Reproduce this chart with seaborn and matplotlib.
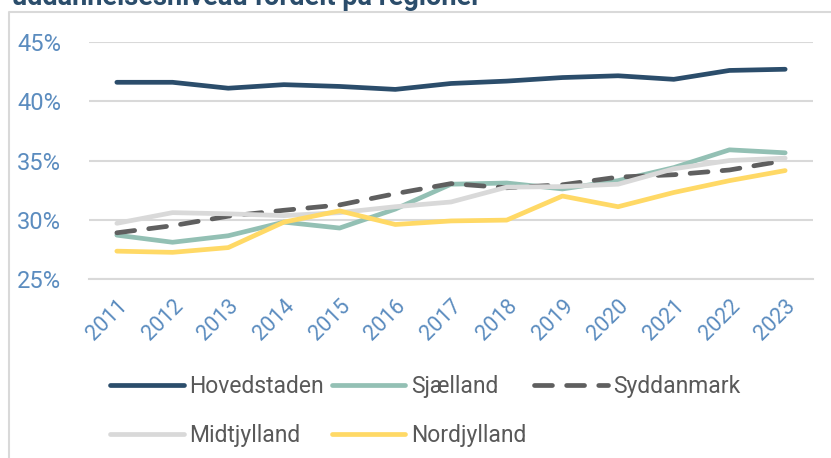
import pandas as pd
import seaborn as sns
import matplotlib.pyplot as plt
from matplotlib.lines import Line2D

# data (share in %)
years = list(range(2011, 2024))
hovedstaden = [41.6, 41.6, 41.1, 41.4, 41.25, 41.0, 41.5, 41.7, 42.0, 42.15, 41.85, 42.6, 42.7]
sjaelland = [28.7, 28.1, 28.65, 29.8, 29.3, 30.9, 33.0, 33.1, 32.6, 33.3, 34.4, 35.9, 35.65]
syddanmark = [28.9, 29.5, 30.3, 30.8, 31.25, 32.2, 33.05, 32.7, 32.95, 33.6, 33.8, 34.2, 35.0]
midtjylland = [29.7, 30.6, 30.5, 30.35, 30.6, 31.1, 31.5, 32.75, 32.8, 33.0, 34.3, 35.0, 35.2]
nordjylland = [27.35, 27.25, 27.65, 29.8, 30.75, 29.6, 29.9, 29.97, 32.0, 31.1, 32.3, 33.3, 34.15]

regions = ["Hovedstaden", "Sjælland", "Syddanmark", "Midtjylland", "Nordjylland"]
series = [hovedstaden, sjaelland, syddanmark, midtjylland, nordjylland]
colors = ["#2b4d6b", "#93c0b4", "#5f5f5f", "#d9d9d9", "#ffd966"]

df = pd.DataFrame({"year": years * len(regions),
                   "region": [r for r in regions for _ in years],
                   "value": [v for s in series for v in s]})

sns.set_style("white")
plt.rcParams['font.family'] = ['Roboto', 'DejaVu Sans']

fig = plt.figure(figsize=(8.31, 4.58), dpi=100)
ax = fig.add_axes([89 / 831, 1 - 279 / 458, (813 - 89) / 831, (279 - 42) / 458])

handles = {}
for region, color in zip(regions, colors):
    sub = df[df["region"] == region]
    sns.lineplot(data=sub, x="year", y="value", ax=ax, color=color, linewidth=3.4,
                 legend=False, zorder=3)
    line = ax.lines[-1]
    line.set_solid_capstyle("round")
    line.set_solid_joinstyle("round")
    if region == "Syddanmark":
        line.set_dashes((3.8, 3.0))
        line.set_dash_capstyle("round")
    handles[region] = line

ax.set_xlim(2010.5, 2023.5)
ax.set_ylim(25, 45)
ax.set_yticks([25, 30, 35, 40, 45])
ax.set_yticklabels(["25%", "30%", "35%", "40%", "45%"])
ax.set_xticks(years)
ax.set_xticklabels([str(y) for y in years], rotation=45, ha="right", rotation_mode="anchor")
ax.set_xticks([y - 0.5 for y in years] + [2023.5], minor=True)
ax.set_xlabel("")
ax.set_ylabel("")

ax.grid(axis="y", color="#d9d9d9", linewidth=1.5, zorder=0)
for s in ["top", "right", "left"]:
    ax.spines[s].set_visible(False)
ax.spines["bottom"].set_color("#d9d9d9")
ax.spines["bottom"].set_linewidth(1.5)

blue = "#5b8cbf"
ax.tick_params(axis="y", length=0, labelsize=17, labelcolor=blue, pad=20)
ax.tick_params(axis="x", which="major", length=0, labelsize=15.5, labelcolor=blue, pad=12)
ax.tick_params(axis="x", which="minor", length=8, width=1.5, color="#d9d9d9")

# legend in row order (matplotlib fills columns first)
order = ["Hovedstaden", "Midtjylland", "Sjælland", "Nordjylland", "Syddanmark"]
leg = fig.legend([handles[r] for r in order], order, loc="center", ncol=3,
                 bbox_to_anchor=(0.512, 1 - 411 / 458), frameon=False, fontsize=16.5,
                 handlelength=3.2, handletextpad=0.25, columnspacing=0.35, labelspacing=1.15)
for t in leg.get_texts():
    t.set_color("#595959")

# frame and cut-off title at the top
fig.add_artist(Line2D([9 / 831, 9 / 831, 1], [0, 1 - 12 / 458, 1 - 12 / 458],
                      color="#d9d9d9", linewidth=1.5, transform=fig.transFigure))
fig.text(12 / 831, 1 - 5 / 458, "uddannelsesniveau fordelt på regioner", fontsize=19.5,
         weight="bold", color="#2b4d6b", va="baseline")

fig.savefig("out.png", dpi=100)
